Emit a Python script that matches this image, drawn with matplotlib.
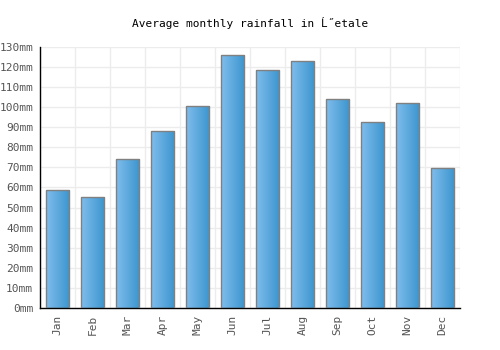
import matplotlib
matplotlib.use("Agg")
import matplotlib.pyplot as plt
import numpy as np
from matplotlib.colors import LinearSegmentedColormap

months = ["Jan", "Feb", "Mar", "Apr", "May", "Jun", "Jul", "Aug", "Sep", "Oct", "Nov", "Dec"]
rainfall = [59, 55.5, 74.3, 88.2, 100.6, 126.0, 118.6, 123.1, 104.0, 92.5, 102.1, 69.9]
yticks = list(range(0, 131, 10))
ytick_labels = [f"{v}mm" for v in yticks]
title = "Average monthly rainfall in Ĺ˝etale"

plt.rcParams['font.family'] = ['DejaVu Sans Mono', 'DejaVu Sans']

fig = plt.figure(figsize=(5, 3.5), dpi=100)
ax = fig.add_axes([0.08, 0.12, 0.84, 0.746])

x = np.arange(len(months))
width = 0.66
cmap = LinearSegmentedColormap.from_list("g", ["#80bdec", "#3b95cf"])
grad = np.linspace(0, 1, 64).reshape(1, -1)
bars = ax.bar(x, rainfall, width=width, facecolor="none", edgecolor="#808080", linewidth=1.0, zorder=3)
for b in bars:
    x0, y0 = b.get_x(), b.get_y()
    w, h = b.get_width(), b.get_height()
    im = ax.imshow(grad, extent=[x0, x0 + w, y0, y0 + h], aspect="auto", cmap=cmap, zorder=2,
                   interpolation="bilinear")
    im.set_clip_path(b)

ax.set_xlim(-0.5, len(months) - 0.5)
ax.set_ylim(0, 130)
ax.set_yticks(yticks)
ax.set_yticklabels(ytick_labels)
ax.set_xticks(x)
ax.set_xticklabels(months, rotation=90)
ax.set_xticks(np.arange(-0.5, len(months), 1), minor=True)
ax.grid(axis="y", which="major", color="#ececec", linewidth=1, zorder=0)
ax.grid(axis="x", which="minor", color="#ececec", linewidth=1, zorder=0)
ax.tick_params(axis="both", which="both", length=0, labelsize=8, labelcolor="#555555", pad=5)
ax.tick_params(axis="x", which="minor", length=0)
for s in ["top", "right"]:
    ax.spines[s].set_visible(False)
for s in ["left", "bottom"]:
    ax.spines[s].set_color("black")
    ax.spines[s].set_linewidth(1)

fig.text(0.5, 0.935, title, ha="center", va="center", fontsize=8, color="black")

fig.savefig("out.png", dpi=100)
